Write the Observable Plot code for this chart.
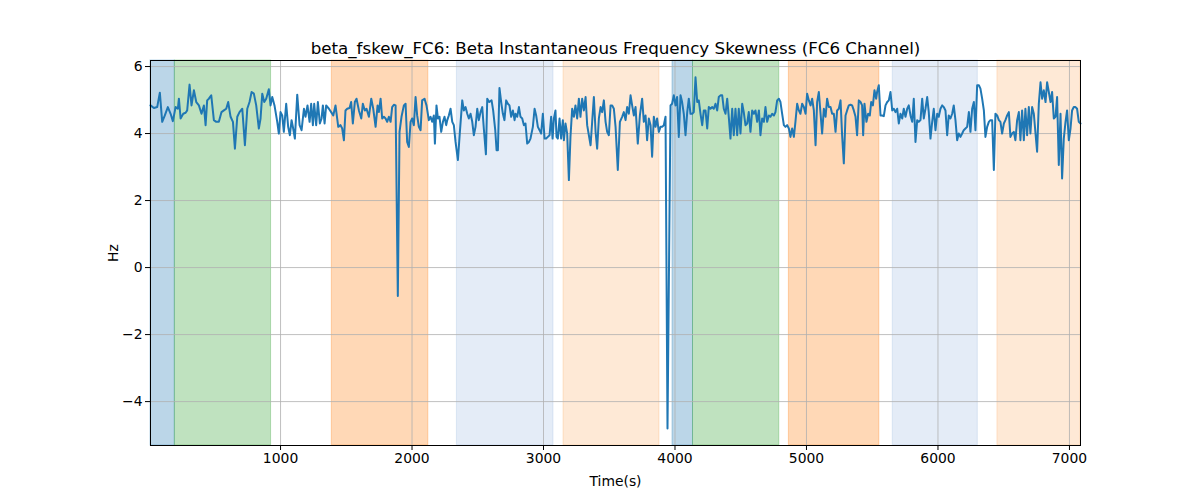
<!DOCTYPE html>
<html><head><meta charset="utf-8">
<script src="https://cdn.jsdelivr.net/npm/d3@7"></script>
<script src="https://cdn.jsdelivr.net/npm/@observablehq/plot@0.6"></script>
<style>body{margin:0;background:#fff;font-family:"DejaVu Sans",sans-serif;}</style>
</head><body><div id="chart"></div>
<script>
const times = [
11,37,62,82,100,120,143,164,181,202,219,227,240,260,278,290,308,323,341,359,379,399,417,430,442,455,473,493,511,531,551,569,587,602,620,638,653,671,688,709,729,747,764,780,797,815,835,848,861,876,891,911,924,937,954,975,987,1000,1013,1025,1043,1058,1071,1084,1096,1109,1127,1145,1160,1178,1190,1205,1221,1233,1246,1256,1271,1284,1299,1312,1322,1335,1347,1368,1385,1401,1418,1439,1456,1469,1482,1494,1507,1525,1537,1550,1565,1578,1596,1614,1626,1641,1654,1672,1690,1705,1723,1738,1748,
1761,1773,1786,1799,1811,1824,1837,1849,1862,1875,1892,1905,1920,1938,1951,1963,1976,1989,2001,2014,2027,2039,2052,2065,2077,2095,2110,2128,2141,2153,2166,2174,2186,2197,2209,2222,2235,2247,2260,2268,2280,2293,2306,2318,2331,2349,2364,2382,2394,2407,2420,2432,2445,2458,2470,2483,2496,2508,2521,2534,2546,2562,2572,2587,2605,2617,2633,2643,2653,2665,2678,2691,2703,2716,2729,2741,2754,2767,2780,2787,2800,2813,2825,2838,2851,2863,2876,2889,2901,2919,2932,2944,2957,2970,2982,2995,3008,3020,3033,3046,3058,3069,3079,3091,3099,3109,3122,3134,3147,3155,3167,3180,3193,3205,3218,3231,3243,3256,3269,3281,3294,3307,3320,3332,3345,3358,3370,3383,3396,3408,3421,3434,3446,3459,3472,3484,3497,
3510,3522,3535,3548,3565,3581,3598,3611,3624,3636,3649,3662,3674,3687,3700,3717,3733,3750,3763,3776,3788,3801,3814,3826,3839,3852,3864,3877,3890,3902,3915,3928,3943,3966,3978,3991,4004,4016,4029,4042,4054,4067,4080,4093,4105,4118,4131,4143,4156,4169,4181,4194,4207,4219,4232,4245,4257,4270,4283,4295,4308,4321,4333,4346,4359,4371,4384,4397,4409,4422,4435,4447,4460,4473,4485,4498,4511,4523,4536,4549,4561,4574,4587,4600,4612,4625,4638,4650,4663,4676,4688,4701,4714,4726,4739,4752,4764,4777,4790,4802,4815,4828,4840,4853,4866,4878,4891,4904,4916,4929,4942,4954,4967,4980,4993,5005,5018,5031,5043,5056,5069,5081,5094,5107,5119,5132,5145,5157,5170,5183,5195,5208,5221,5233,5246,
5259,5271,5284,5297,5309,5322,5335,5347,5360,5373,5385,5398,5411,5423,5431,5441,5456,5469,5482,5492,5505,5517,5530,5537,5550,5563,5575,5588,5601,5614,5626,5639,5652,5664,5677,5690,5702,5715,5728,5740,5753,5766,5778,5791,5804,5816,5829,5842,5854,5867,5880,5892,5905,5918,5930,5943,5956,5968,5981,5994,6006,6019,6032,6044,6057,6070,6082,6095,6108,6120,6133,6146,6158,6171,6184,6196,6209,6222,6235,6247,6260,6273,6285,6298,6311,6323,6336,6349,6361,6374,6387,6399,6412,6425,6437,6450,6463,6475,6488,6501,6513,6526,6539,6551,6564,6577,6589,6602,6615,6627,6640,6653,6665,6678,6691,6703,6716,6729,6742,6754,6767,6780,6792,6805,6818,6830,6843,6856,6868,6881,6894,6906,6919,6932,6944,6957,6970,6982,6995,7008,7020,7033,7046,7058,7071,7084];
const values = [
4.84,4.76,4.79,5.22,4.35,4.54,4.79,4.59,4.37,4.79,4.74,5.04,4.45,4.59,4.62,4.69,5.46,4.84,5.29,4.94,4.84,4.59,4.84,4.25,4.99,5.04,5.14,4.40,4.35,4.35,4.64,4.69,4.74,4.94,4.50,4.35,3.55,4.50,4.64,4.74,3.65,4.74,4.94,5.24,5.19,4.84,4.15,4.45,5.19,4.94,5.04,5.32,4.84,5.09,4.84,4.35,4.00,4.64,4.54,4.05,4.89,4.20,3.95,4.40,4.15,3.85,5.16,4.25,4.10,4.74,4.50,4.84,4.35,4.89,4.25,4.89,4.25,4.94,4.30,4.45,4.84,4.30,4.84,4.74,4.64,4.54,4.84,4.20,4.25,4.15,3.80,4.69,4.74,4.76,4.94,4.30,4.94,5.04,4.69,4.45,4.89,4.69,4.74,4.50,5.04,4.74,4.20,4.84,4.64,
5.04,4.45,4.50,4.45,4.35,4.50,4.35,4.79,4.86,4.84,-0.85,4.05,4.50,4.84,4.89,3.75,3.60,4.35,4.45,4.25,5.09,4.54,4.20,4.10,4.99,5.04,4.84,4.40,4.50,4.35,4.54,3.70,4.84,4.45,4.50,4.05,4.35,4.50,4.25,4.40,4.54,4.74,4.35,4.25,3.75,3.21,4.05,4.99,4.69,4.79,4.59,4.45,4.59,4.35,3.95,4.20,4.74,4.40,4.64,4.79,4.15,3.38,5.04,4.94,4.99,4.69,4.10,3.50,3.50,5.36,4.94,4.59,4.40,4.99,4.89,4.84,4.50,4.69,4.40,4.59,4.50,4.79,4.50,4.45,4.25,4.30,3.70,3.75,3.85,4.20,4.74,4.54,4.20,4.10,4.00,4.59,3.85,3.85,3.90,3.95,4.50,3.85,4.45,4.69,3.90,3.85,4.45,3.85,4.40,3.80,4.30,4.00,2.61,3.90,4.74,4.50,4.84,4.45,5.04,4.50,5.04,4.69,5.09,4.25,3.95,3.65,4.35,5.09,4.05,3.55,4.45,4.79,4.64,4.99,4.35,4.05,3.95,
4.84,4.84,4.74,4.20,2.91,4.35,4.50,4.64,4.40,4.79,4.59,5.14,4.84,4.54,4.79,3.70,4.54,5.04,4.35,4.54,3.80,4.45,4.25,3.31,4.50,4.20,4.45,4.05,4.20,4.20,4.25,4.50,-4.80,4.84,4.89,5.14,4.84,5.09,3.90,5.14,4.94,4.59,3.95,4.64,5.04,4.59,4.59,4.64,5.68,4.94,4.99,4.59,4.25,4.69,4.69,4.15,4.79,4.74,4.79,4.74,4.89,4.69,5.09,5.14,5.14,4.74,4.59,5.04,4.50,3.85,4.74,3.95,4.74,3.95,4.74,4.00,4.89,4.64,4.25,4.30,4.64,4.05,4.69,4.59,4.69,4.35,4.69,3.95,4.45,4.35,4.79,4.35,4.54,4.50,4.59,4.54,4.64,4.99,5.04,4.94,4.59,4.25,4.20,4.25,4.15,3.90,4.15,3.90,4.35,4.89,4.69,4.59,4.89,4.79,4.59,5.19,4.99,4.84,5.04,4.69,3.65,4.94,5.24,4.59,4.00,4.74,4.50,5.04,4.79,4.79,4.59,4.59,4.05,4.69,4.74,
4.99,3.95,3.11,4.54,4.69,4.84,4.86,4.84,4.69,4.50,3.95,4.99,4.94,4.84,3.95,4.89,4.35,4.59,4.54,4.94,4.84,5.29,5.04,5.24,5.44,4.54,4.54,4.52,4.84,4.94,4.99,5.24,4.69,4.74,4.64,4.74,4.30,4.59,4.45,4.74,4.50,4.74,4.84,4.54,4.35,5.04,3.75,4.40,4.35,4.40,5.04,4.45,4.74,5.09,4.64,3.85,4.35,4.74,4.10,4.59,4.50,4.74,4.84,4.79,4.69,3.95,4.54,4.45,4.59,4.84,4.40,3.80,4.00,3.90,4.00,4.10,4.15,4.20,4.64,4.05,4.74,4.94,4.10,5.44,5.44,5.34,5.04,4.69,3.90,4.20,4.35,4.40,4.40,2.91,4.59,4.54,4.40,4.35,4.00,4.30,4.40,4.54,4.64,3.90,4.00,4.05,3.80,4.40,4.64,3.80,4.69,3.80,4.74,3.95,4.79,4.00,4.79,4.59,4.00,3.46,4.89,5.53,5.04,5.29,4.94,5.53,5.24,4.94,5.24,4.45,4.50,5.09,3.06,4.59,2.66,3.85,4.35,4.69,3.80,4.15,4.69,4.79,4.79,4.74,4.35,4.30];

const spanStarts = [11, 196, 1390, 2341, 3152, 3981, 4137, 4866, 5656, 6452];
const spanEnds   = [196, 928, 2124, 3076, 3882, 4137, 4793, 5554, 6303, 7084];
const spanKinds  = ["blue","green","orange","lightblue","lightorange","blue","green","orange","lightblue","lightorange"];
const kindFill = {blue:"#1f77b4", green:"#2ca02c", orange:"#ff7f0e", lightblue:"#6f98d6", lightorange:"#fb9a45"};
const kindOpacity = {blue:0.3, green:0.3, orange:0.3, lightblue:0.19, lightorange:0.22};

const xTicks = [1000, 2000, 3000, 4000, 5000, 6000, 7000];
const yTicks = [-4, -2, 0, 2, 4, 6];
const title = "beta_fskew_FC6: Beta Instantaneous Frequency Skewness (FC6 Channel)";

const series = times.map((t, i) => ({t, v: values[i]}));
const spans = spanStarts.map((s, i) => ({start: s, end: spanEnds[i], kind: spanKinds[i]}));

const spanMarks = Object.keys(kindFill).map(k =>
  Plot.barX(spans.filter(d => d.kind === k), {
    x1: "start", x2: "end",
    fill: kindFill[k], fillOpacity: kindOpacity[k],
    stroke: kindFill[k], strokeOpacity: kindOpacity[k], strokeWidth: 1
  })
);

const chart = Plot.plot({
  width: 1200, height: 500,
  marginLeft: 150, marginRight: 120, marginTop: 60, marginBottom: 55,
  style: {fontFamily: "DejaVu Sans", fontSize: "13.9px", background: "white", color: "black", overflow: "visible"},
  x: {domain: [11, 7084]},
  y: {domain: [-5.31, 6.18]},
  marks: [
    ...spanMarks,
    Plot.gridX(xTicks, {stroke: "#b0b0b0", strokeOpacity: 1, strokeWidth: 0.8}),
    Plot.gridY(yTicks, {stroke: "#b0b0b0", strokeOpacity: 1, strokeWidth: 0.8}),
    Plot.line(series, {x: "t", y: "v", stroke: "#1f77b4", strokeWidth: 2}),
    Plot.frame({stroke: "black", strokeWidth: 1}),
    Plot.axisX(xTicks, {tickSize: 5, tickPadding: 3, tickFormat: d => String(d), label: "Time(s)", labelAnchor: "center", labelArrow: "none", labelOffset: 40, fontSize: 13.9}),
    Plot.axisY(yTicks, {tickSize: 5, tickPadding: 3, label: "Hz", labelAnchor: "center", labelArrow: "none", labelOffset: 42, fontSize: 13.9}),
    Plot.text([title], {frameAnchor: "top", dy: -7, lineAnchor: "bottom", fontSize: 16.7, fill: "black"})
  ]
});
document.getElementById("chart").appendChild(chart);
</script>
</body></html>
